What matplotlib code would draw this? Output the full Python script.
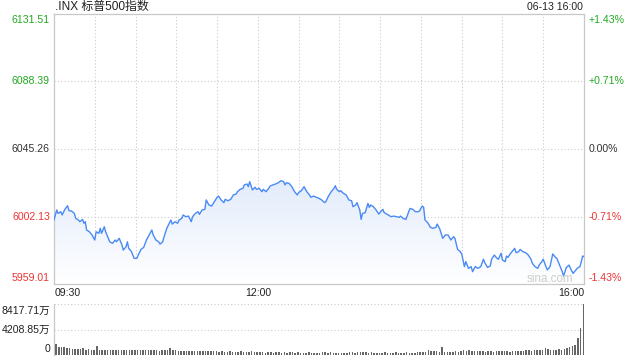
import numpy as np
import matplotlib
matplotlib.use('Agg')
import matplotlib.pyplot as plt
from matplotlib.colors import LinearSegmentedColormap
from matplotlib.patches import Polygon

plt.rcParams['font.family'] = ['Liberation Sans', 'Noto Sans CJK SC', 'DejaVu Sans']

title = '.INX 标普500指数'
stamp = '06-13 16:00'
prev_close = 6045.26
price_ticks = [6131.51, 6088.39, 6045.26, 6002.13, 5959.01]
pct_labels = ['+1.43%', '+0.71%', '0.00%', '-0.71%', '-1.43%']
time_labels = ['09:30', '12:00', '16:00']
time_label_minutes = [0, 150, 390]
vol_tick_labels = ['8417.71万', '4208.85万', '0']

# minutes after 09:30
minutes = [0, 2, 3, 5, 6, 8, 10, 11, 13, 15, 16, 18, 19, 21, 22, 23, 24, 26, 28, 30,
           31, 33, 34, 35, 37, 38, 39, 41, 43, 45, 46, 48, 50, 51, 53, 54, 55, 57, 59, 61,
           62, 64, 66, 68, 70, 72, 73, 75, 77, 78, 80, 81, 83, 86, 87, 89, 91, 92, 94, 95,
           97, 99, 101, 102, 104, 106, 107, 109, 111, 112, 114, 116, 118, 120, 121, 123, 125, 126, 128, 130,
           132, 134, 135, 137, 139, 140, 142, 143, 144, 146, 148, 149, 151, 153, 154, 156, 158, 159, 161, 163,
           165, 167, 169, 170, 171, 173, 175, 177, 179, 180, 182, 184, 186, 188, 189, 191, 193, 195, 197, 199,
           200, 202, 204, 206, 207, 208, 210, 211, 213, 215, 217, 219, 220, 222, 223, 225, 226, 227, 229, 231,
           232, 233, 235, 237, 239, 241, 242, 243, 244, 246, 248, 250, 252, 254, 255, 257, 259, 261, 262, 264,
           266, 268, 269, 271, 272, 273, 275, 277, 279, 281, 282, 284, 286, 288, 290, 292, 294, 295, 297, 299,
           300, 302, 303, 305, 307, 308, 310, 312, 314, 316, 317, 319, 321, 322, 324, 326, 327, 329, 330, 332,
           333, 334, 336, 338, 339, 340, 342, 343, 345, 347, 349, 351, 352, 354, 356, 357, 359, 360, 362, 363,
           365, 366, 367, 369, 370, 372, 374, 375, 377, 379, 380, 382, 384, 385, 387, 388, 389, 390]
prices = [5999.9, 6006.3, 6004.1, 6005.2, 6003.1, 6006.7, 6009.0, 6005.9, 6005.6, 6004.1,
          6000.9, 5999.9, 5998.8, 6000.3, 5997.8, 5998.8, 5993.5, 5992.4, 5990.3, 5987.1,
          5992.4, 5991.4, 5994.6, 5991.4, 5995.6, 5992.4, 5990.3, 5986.0, 5985.0, 5987.1,
          5986.0, 5988.2, 5983.9, 5980.7, 5982.8, 5986.0, 5981.8, 5979.7, 5975.4, 5975.4,
          5977.5, 5981.1, 5982.4, 5987.1, 5990.3, 5993.5, 5990.3, 5987.1, 5986.0, 5984.5,
          5986.0, 5989.2, 5994.6, 5999.9, 5997.3, 5998.8, 5997.8, 5999.9, 6000.9, 6003.1,
          6002.0, 6002.4, 5998.8, 6002.0, 6004.1, 6005.2, 6003.5, 6006.3, 6006.7, 6012.7,
          6009.5, 6008.8, 6011.6, 6014.4, 6015.2, 6012.7, 6011.0, 6013.1, 6012.2, 6013.1,
          6015.9, 6016.5, 6018.0, 6019.5, 6020.1, 6022.3, 6022.9, 6021.2, 6024.4, 6019.1,
          6020.8, 6019.5, 6020.1, 6018.0, 6019.5, 6018.0, 6020.1, 6021.6, 6022.3, 6022.9,
          6023.7, 6025.0, 6024.4, 6022.3, 6023.7, 6023.3, 6021.2, 6018.0, 6015.9, 6017.4,
          6018.6, 6021.2, 6018.0, 6015.9, 6014.4, 6015.2, 6014.4, 6013.7, 6012.7, 6011.0,
          6011.6, 6015.2, 6018.0, 6020.1, 6021.8, 6019.5, 6018.0, 6018.6, 6016.9, 6015.9,
          6012.7, 6012.2, 6008.4, 6009.5, 6011.0, 6006.3, 6000.3, 6004.1, 6004.6, 6010.5,
          6008.0, 6009.5, 6008.4, 6006.3, 6003.7, 6005.8, 6006.7, 6004.6, 6004.1, 6003.1,
          6002.0, 6002.4, 6002.0, 6001.6, 6002.4, 6000.9, 6000.3, 6005.2, 6007.3, 6006.7,
          6005.2, 6005.2, 6005.8, 6008.8, 6008.0, 5999.9, 5998.2, 5995.2, 5994.6, 5995.2,
          5997.3, 5993.9, 5988.2, 5990.3, 5990.3, 5987.1, 5989.2, 5988.2, 5981.1, 5979.7,
          5978.2, 5970.1, 5973.3, 5969.0, 5970.1, 5966.9, 5970.1, 5969.0, 5970.1, 5974.8,
          5972.6, 5969.6, 5970.5, 5974.8, 5977.5, 5975.4, 5974.8, 5978.6, 5974.3, 5973.3,
          5976.9, 5976.0, 5978.6, 5980.7, 5981.8, 5979.0, 5979.7, 5981.1, 5979.7, 5979.0,
          5977.5, 5974.8, 5972.2, 5970.1, 5969.0, 5971.1, 5973.3, 5974.8, 5970.1, 5968.0,
          5970.1, 5974.3, 5978.2, 5976.0, 5975.4, 5971.1, 5966.9, 5964.1, 5969.6, 5971.1,
          5969.0, 5965.8, 5968.0, 5969.0, 5970.1, 5973.3, 5976.9, 5976.5]

# volume per 2-minute bar, in 万 (one row per half hour)
volume = [
    1760, 1400, 1300, 1250, 1150, 1100, 1050, 1000, 1050, 950, 1100, 900, 950, 900, 850,
    1550, 900, 850, 800, 900, 850, 800, 900, 850, 750, 800, 850, 750, 800, 750,
    800, 750, 850, 800, 750, 800, 750, 800, 700, 750, 800, 750, 1100, 750, 800,
    650, 700, 600, 650, 700, 600, 650, 600, 700, 650, 600, 650, 700, 600, 650,
    550, 600, 500, 550, 600, 500, 550, 500, 600, 550, 500, 550, 600, 500, 550,
    450, 500, 400, 450, 500, 400, 450, 500, 400, 450, 400, 500, 450, 400, 450,
    400, 350, 400, 450, 350, 400, 350, 400, 450, 500, 400, 450, 400, 350, 400,
    400, 350, 400, 450, 550, 400, 500, 550, 450, 500, 400, 450, 400, 350, 400,
    400, 450, 400, 350, 400, 450, 400, 350, 400, 450, 400, 400, 350, 450, 500,
    550, 500, 800, 650, 600, 650, 550, 1400, 500, 450, 500, 550, 700, 500, 650,
    900, 600, 750, 650, 700, 600, 650, 600, 550, 650, 600, 550, 600, 650, 600,
    600, 650, 550, 650, 700, 600, 700, 650, 750, 800, 700, 750, 800, 850, 800,
    1100, 950, 900, 850, 900, 950, 850, 1000, 1200, 1400, 1500, 1650, 2750, 4400, 8417.71,
]

GREEN = '#22a822'
RED = '#ee3333'
DARK = '#333333'
GRID = '#cbcbcb'
BORDER = '#c8c8c8'
FS = 7.6

fig = plt.figure(figsize=(6.4, 3.6), dpi=100)
ax = fig.add_axes([54 / 640, 1 - 284 / 360, 530 / 640, 270 / 360])
axv = fig.add_axes([54 / 640, 1 - 355 / 360, 530 / 640, 51 / 360])

ymin, ymax = price_ticks[-1], price_ticks[0]
ax.set_xlim(0, 390)
ax.set_ylim(ymin, ymax)
ax.set_xticks([])
ax.set_yticks([])
for s in ax.spines.values():
    s.set_color(BORDER)
    s.set_linewidth(0.9)

for p in price_ticks[1:-1]:
    ax.axhline(p, color=GRID, lw=0.8, ls=(0, (1, 2)), zorder=1)
for m in range(30, 390, 30):
    ax.axvline(m, color=GRID, lw=0.8, ls=(0, (1, 2)), zorder=1)

# gradient fill under the line
verts = [(minutes[0], ymin)] + list(zip(minutes, prices)) + [(minutes[-1], ymin)]
poly = Polygon(verts, closed=True, facecolor='none', edgecolor='none')
ax.add_patch(poly)
cmap = LinearSegmentedColormap.from_list('g', ['#ffffff', '#e3ecfb'])
grad = np.linspace(1, 0, 256).reshape(-1, 1)
im = ax.imshow(grad, extent=[0, 390, ymin, max(prices)], aspect='auto', cmap=cmap,
               origin='upper', zorder=2, interpolation='bicubic')
im.set_clip_path(poly)
ax.set_xlim(0, 390)
ax.set_ylim(ymin, ymax)

ax.plot(minutes, prices, color='#4a8af4', lw=1.0, zorder=3)

# price labels
for i, (p, lab) in enumerate(zip(price_ticks, pct_labels)):
    if p > prev_close:
        c = GREEN
    elif p < prev_close:
        c = RED
    else:
        c = DARK
    dy = -6 if i == 0 else (6.5 if i == len(price_ticks) - 1 else 0)
    ax.annotate(f'{p:.2f}', xy=(0, p), xycoords=('axes fraction', 'data'),
                xytext=(-4, dy), textcoords='offset pixels', ha='right', va='center',
                color=c, fontsize=FS, annotation_clip=False)
    ax.annotate(lab, xy=(1, p), xycoords=('axes fraction', 'data'),
                xytext=(5, dy), textcoords='offset pixels', ha='left', va='center',
                color=c, fontsize=FS, annotation_clip=False)

# time labels
for lab, m in zip(time_labels, time_label_minutes):
    ha = 'left' if m == 0 else ('right' if m == 390 else 'center')
    dx = 1 if m == 0 else 0
    ax.annotate(lab, xy=(m, 0), xycoords=('data', 'axes fraction'),
                xytext=(dx, -9), textcoords='offset pixels', ha=ha, va='center',
                color='#222222', fontsize=FS, annotation_clip=False)

ax.annotate(title, xy=(0, 1), xycoords='axes fraction', xytext=(1, 7),
            textcoords='offset pixels', ha='left', va='center', color='#222222',
            fontsize=8.6, annotation_clip=False)
ax.annotate(stamp, xy=(1, 1), xycoords='axes fraction', xytext=(-1, 7),
            textcoords='offset pixels', ha='right', va='center', color='#222222',
            fontsize=FS, annotation_clip=False)
ax.annotate('sina.com', xy=(1, 0), xycoords='axes fraction', xytext=(-11, 5),
            textcoords='offset pixels', ha='right', va='center', color='#cccccc',
            fontsize=8.4, zorder=4)

# volume panel
vmax = max(volume)
xs = [2 * i + 1.5 for i in range(len(volume))]
axv.set_xlim(0, 390)
axv.set_ylim(0, vmax)
axv.bar(xs, volume, width=1.1, color='#666666', linewidth=0, zorder=3)
axv.set_xticks([])
axv.set_yticks([])
for k, s in axv.spines.items():
    if k == 'left':
        s.set_color(BORDER)
        s.set_linewidth(0.9)
    else:
        s.set_visible(False)
for v in [vmax, vmax / 2]:
    axv.axhline(v, color=GRID, lw=0.8, ls=(0, (1, 2)), zorder=1, clip_on=False)
for v, lab, dy in zip([vmax, vmax / 2, 0], vol_tick_labels, [-7, 0, 6.5]):
    axv.annotate(lab, xy=(0, v), xycoords=('axes fraction', 'data'),
                 xytext=(-4, dy), textcoords='offset pixels', ha='right', va='center',
                 color='#222222', fontsize=FS, annotation_clip=False)

fig.savefig('out.png', dpi=100)
